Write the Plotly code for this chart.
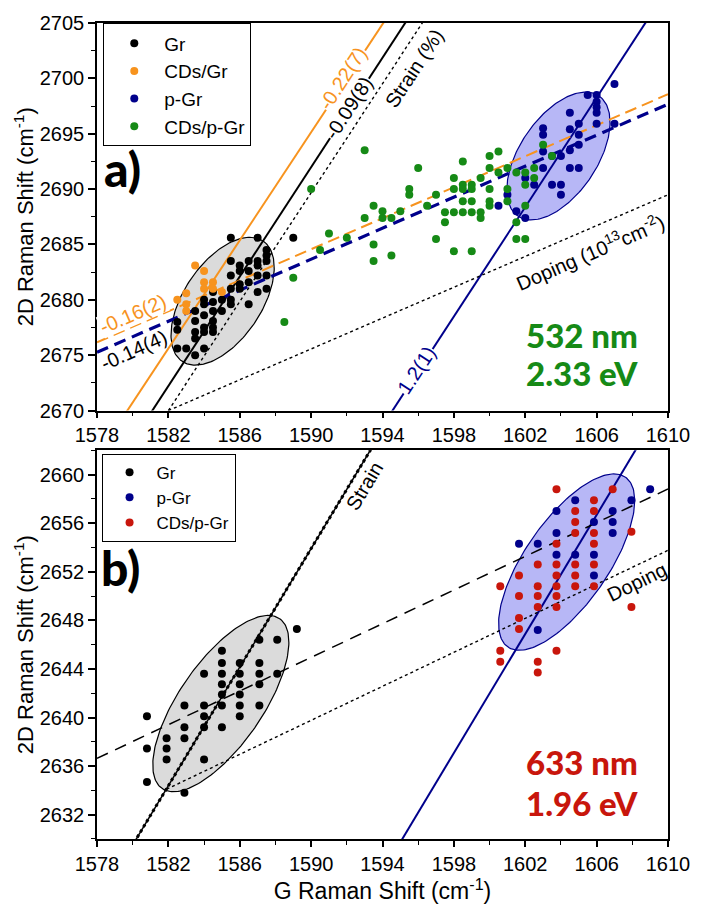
import numpy as np
import plotly.graph_objects as go

# ---------------- Panel a) 532 nm ----------------
gr_a_x = [1582.5, 1582.5, 1582.5, 1583.0, 1583.5, 1583.5, 1583.5, 1583.5, 1583.5,
          1584.0, 1584.0, 1584.0, 1584.0, 1584.0, 1584.0,
          1584.5, 1584.5, 1584.5, 1584.5, 1584.5, 1584.5, 1585.0, 1585.0,
          1585.5, 1585.5, 1585.5, 1585.5, 1585.5, 1585.5,
          1586.0, 1586.0, 1586.0, 1586.0, 1586.5, 1586.5, 1586.5, 1586.5,
          1587.0, 1587.0, 1587.0, 1587.0, 1587.0,
          1587.5, 1587.5, 1587.5, 1587.5, 1587.5, 1589.0]
gr_a_y = [2678.0, 2677.3, 2675.6, 2675.6, 2679.0, 2678.1, 2677.1, 2676.5, 2675.0,
          2680.0, 2679.6, 2678.6, 2677.5, 2677.1, 2675.6,
          2680.7, 2679.8, 2679.0, 2678.1, 2677.5, 2677.1, 2680.0, 2679.0,
          2685.6, 2683.5, 2682.2, 2681.0, 2680.0, 2679.6,
          2683.1, 2682.6, 2681.4, 2681.0, 2683.5, 2682.6, 2681.6, 2679.6,
          2685.6, 2683.5, 2683.1, 2682.2, 2680.7,
          2684.5, 2684.0, 2683.5, 2682.2, 2681.0, 2685.6]

cdgr_a_x = [1582.5, 1583.0, 1583.0, 1583.0, 1583.5, 1584.0, 1584.0, 1584.0, 1584.5, 1584.5, 1585.0]
cdgr_a_y = [2680.0, 2680.6, 2679.6, 2679.0, 2683.1, 2682.6, 2681.6, 2681.0, 2681.6, 2681.0, 2680.7]

pgr_a_x = [1600.5, 1601.0, 1601.5, 1602.0, 1602.0, 1602.5,
           1603.0, 1603.0, 1603.0, 1603.0, 1603.5, 1603.5,
           1604.0, 1604.0, 1604.0, 1604.5, 1604.5, 1604.5, 1604.5,
           1605.0, 1605.0, 1605.0, 1605.0, 1605.5,
           1606.0, 1606.0, 1606.0, 1606.0, 1606.0, 1607.0, 1607.0]
pgr_a_y = [2688.5, 2689.5, 2688.0, 2687.4, 2691.0, 2690.4,
           2695.5, 2694.9, 2693.4, 2691.9, 2693.0, 2690.4,
           2693.0, 2690.4, 2689.5, 2696.9, 2695.4, 2693.5, 2691.9,
           2695.9, 2694.9, 2694.0, 2691.9, 2698.5,
           2698.5, 2697.9, 2697.4, 2696.9, 2695.9, 2699.5, 2695.9]

cdpgr_a_x = [1588.5, 1589.0, 1590.0, 1590.5, 1591.0, 1592.0,
             1593.0, 1593.0, 1593.5, 1593.5, 1593.5,
             1594.0, 1594.0, 1594.5, 1594.5, 1595.0,
             1595.5, 1595.5, 1596.0, 1596.5, 1597.0, 1597.0,
             1597.5, 1597.5, 1598.0, 1598.0, 1598.0, 1598.0,
             1598.5, 1598.5, 1598.5, 1598.5, 1598.5,
             1599.0, 1599.0, 1599.0, 1599.0, 1599.0,
             1599.5, 1599.5, 1599.5,
             1600.0, 1600.0, 1600.0, 1600.0, 1600.0,
             1600.5, 1600.5, 1601.0, 1601.0, 1601.0,
             1601.5, 1601.5, 1601.5, 1602.0, 1602.0, 1602.0, 1602.0,
             1602.5, 1602.5, 1603.0, 1603.5]
cdpgr_a_y = [2678.0, 2682.0, 2690.0, 2684.5, 2686.0, 2685.6,
             2693.5, 2687.4, 2688.5, 2685.0, 2683.5,
             2688.0, 2687.4, 2687.4, 2684.0, 2688.0,
             2690.0, 2689.5, 2691.9, 2688.5, 2689.5, 2685.5,
             2687.9, 2687.0, 2691.0, 2690.0, 2687.9, 2684.4,
             2692.5, 2690.4, 2690.0, 2688.9, 2687.9,
             2690.4, 2690.0, 2688.9, 2687.9, 2684.4,
             2691.0, 2687.9, 2687.4,
             2693.0, 2691.9, 2690.0, 2688.9, 2688.5,
             2693.4, 2691.5, 2691.9, 2690.0, 2688.9,
             2691.5, 2687.0, 2685.5, 2691.5, 2690.4, 2688.5, 2685.5,
             2691.9, 2691.0, 2694.0, 2693.0]

# ---------------- Panel b) 633 nm ----------------
gr_b_x = [1580.8, 1580.8, 1580.8, 1581.9, 1581.9, 1581.9,
          1582.9, 1582.9, 1582.9, 1582.9,
          1584.0, 1584.0, 1584.0, 1584.0, 1584.0,
          1585.0, 1585.0, 1585.0, 1585.0, 1585.0, 1585.0, 1585.0,
          1586.0, 1586.0, 1586.0, 1586.0, 1586.0, 1586.0,
          1587.1, 1587.1, 1587.1, 1587.1, 1587.1,
          1588.1, 1588.1, 1589.2]
gr_b_y = [2640.1, 2637.45, 2634.7, 2638.3, 2637.45, 2636.55,
          2641.0, 2639.2, 2638.3, 2633.8,
          2643.6, 2641.0, 2640.1, 2639.2, 2636.55,
          2645.5, 2644.5, 2643.6, 2642.75, 2641.9, 2641.0, 2639.2,
          2644.5, 2643.6, 2642.75, 2641.9, 2641.0, 2640.1,
          2646.4, 2644.5, 2643.6, 2642.75, 2641.0,
          2646.4, 2643.6, 2647.3]

pgr_b_x = [1601.65, 1602.7, 1602.7, 1603.75, 1603.75, 1603.75, 1604.8, 1604.8,
           1605.85, 1605.85, 1605.85, 1606.9, 1606.9, 1606.9, 1607.95, 1609.0]
pgr_b_y = [2654.3, 2654.3, 2647.2, 2657.0, 2655.2, 2653.4, 2657.9, 2653.4,
           2656.1, 2653.4, 2651.7, 2657.0, 2656.1, 2655.2, 2657.9, 2658.8]

cdpgr_b_x = [1603.75, 1605.85, 1606.9, 1604.8, 1604.8, 1604.8,
             1605.85, 1605.85, 1605.85, 1603.75, 1602.7,
             1603.75, 1603.75, 1603.75, 1603.75, 1603.75,
             1604.8, 1604.8, 1604.8, 1605.85, 1605.85,
             1601.65, 1600.6, 1601.65, 1602.7, 1602.7, 1602.7,
             1601.65, 1601.65, 1607.95, 1607.95,
             1600.6, 1600.6, 1602.7, 1602.7, 1603.75]
cdpgr_b_y = [2658.8, 2657.9, 2658.8, 2657.0, 2656.1, 2655.2,
             2657.0, 2655.2, 2654.3, 2654.3, 2652.6,
             2652.6, 2651.7, 2650.8, 2650.0, 2649.1,
             2652.6, 2651.7, 2650.8, 2652.6, 2650.8,
             2651.7, 2650.8, 2650.0, 2650.8, 2650.0, 2649.1,
             2648.2, 2647.3, 2655.3, 2649.1,
             2645.5, 2644.6, 2644.6, 2643.7, 2645.5]

# fitted / reference lines: point (x0, y0), slope, start x
lines_a_x0 = [1581.1, 1579.7, 1594.56, 1578.0, 1578.0, 1582.0, 1582.0]
lines_a_y0 = [2670.0, 2670.0, 2670.0, 2676.17, 2675.27, 2670.0, 2670.0]
lines_a_m = [2.47, 2.44, 2.47, 0.70, 0.70, 2.46, 0.696]
lines_a_xs = [1578.0, 1578.0, 1578.0, 1578.0, 1578.0, 1582.0, 1582.0]

lines_b_x0 = [1580.2, 1580.2, 1595.11, 1578.0, 1581.9]
lines_b_y0 = [2630.0, 2630.0, 2630.0, 2636.64, 2634.1]
lines_b_m = [2.44, 2.44, 2.45, 0.693, 0.70]
lines_b_xs = [1578.0, 1578.0, 1578.0, 1578.0, 1581.9]

# ellipses (centre in data units)
ell_a_cx = [1585.04, 1603.86]
ell_a_cy = [2679.88, 2692.99]
ell_b_cx = [1584.94, 1604.32]
ell_b_cy = [2641.15, 2652.8]

x_ticks = [1578, 1582, 1586, 1590, 1594, 1598, 1602, 1606, 1610]

ORANGE = "#F7931E"
NAVY = "#00008B"
GREEN = "#168A16"
RED = "#C8160C"
BLACK = "#000000"

W, H = 702, 912
ML, MR, MT, MB = 97, 29, 18, 73
PW = W - ML - MR
PH = H - MT - MB
DOM_A = [0.525, 1.0]
DOM_B = [0.0, 0.4763]
XR = [1578, 1610]
YR_A = [2670, 2705]
YR_B = [2630, 2662]

ppx = PW / (XR[1] - XR[0])
ppy_a = PH * (DOM_A[1] - DOM_A[0]) / (YR_A[1] - YR_A[0])
ppy_b = PH * (DOM_B[1] - DOM_B[0]) / (YR_B[1] - YR_B[0])


def ellipse(cx, cy, a, b, ang, ppy):
    t = np.linspace(0, 2 * np.pi, 200)
    th = np.radians(ang)
    dx = a * np.cos(t) * np.cos(th) - b * np.sin(t) * np.sin(th)
    dy = a * np.cos(t) * np.sin(th) + b * np.sin(t) * np.cos(th)
    return cx + dx / ppx, cy + dy / ppy


def line(x0, y0, m, xs, xe=1610.0):
    xx = np.array([xs, xe])
    return xx, y0 + m * (xx - x0)


fig = go.Figure()

ell_styles = [("rgba(200,200,200,0.65)", BLACK), ("rgba(95,95,235,0.45)", NAVY)]
for i in range(2):
    ex, ey = ellipse(ell_a_cx[i], ell_a_cy[i], 73, 39, 56, ppy_a)
    fig.add_trace(go.Scatter(x=ex, y=ey, mode="lines", fill="toself",
                             fillcolor=ell_styles[i][0],
                             line=dict(color=ell_styles[i][1], width=1.2),
                             showlegend=False, hoverinfo="skip", xaxis="x", yaxis="y"))
    ex, ey = ellipse(ell_b_cx[i], ell_b_cy[i], 104, 42, 55.2, ppy_b)
    fig.add_trace(go.Scatter(x=ex, y=ey, mode="lines", fill="toself",
                             fillcolor=ell_styles[i][0],
                             line=dict(color=ell_styles[i][1], width=1.2),
                             showlegend=False, hoverinfo="skip", xaxis="x2", yaxis="y2"))

styles_a = [dict(color=BLACK, width=2), dict(color=ORANGE, width=2), dict(color=NAVY, width=2),
            dict(color=ORANGE, width=2, dash="12px,6px"), dict(color=NAVY, width=3.2, dash="12px,7px"),
            dict(color=BLACK, width=1.4, dash="dot"), dict(color=BLACK, width=1.4, dash="dot")]
for i in range(len(lines_a_x0)):
    lx, ly = line(lines_a_x0[i], lines_a_y0[i], lines_a_m[i], lines_a_xs[i])
    fig.add_trace(go.Scatter(x=lx, y=ly, mode="lines", line=styles_a[i],
                             showlegend=False, hoverinfo="skip", xaxis="x", yaxis="y"))

styles_b = [dict(color=BLACK, width=1.5), dict(color=BLACK, width=3, dash="dot"),
            dict(color=NAVY, width=2), dict(color=BLACK, width=1.5, dash="12px,8px"),
            dict(color=BLACK, width=1.4, dash="dot")]
for i in range(len(lines_b_x0)):
    lx, ly = line(lines_b_x0[i], lines_b_y0[i], lines_b_m[i], lines_b_xs[i])
    fig.add_trace(go.Scatter(x=lx, y=ly, mode="lines", line=styles_b[i],
                             showlegend=False, hoverinfo="skip", xaxis="x2", yaxis="y2"))

MS = 8
for name, xs, ys, col in [("Gr", gr_a_x, gr_a_y, BLACK), ("CDs/Gr", cdgr_a_x, cdgr_a_y, ORANGE),
                          ("p-Gr", pgr_a_x, pgr_a_y, NAVY), ("CDs/p-Gr", cdpgr_a_x, cdpgr_a_y, GREEN)]:
    fig.add_trace(go.Scatter(x=xs, y=ys, mode="markers", name=name,
                             marker=dict(color=col, size=MS), legend="legend",
                             xaxis="x", yaxis="y"))
for name, xs, ys, col in [("Gr", gr_b_x, gr_b_y, BLACK), ("p-Gr", pgr_b_x, pgr_b_y, NAVY),
                          ("CDs/p-Gr", cdpgr_b_x, cdpgr_b_y, RED)]:
    fig.add_trace(go.Scatter(x=xs, y=ys, mode="markers", name=name,
                             marker=dict(color=col, size=MS), legend="legend2",
                             xaxis="x2", yaxis="y2"))

FONT = "Liberation Sans, Arial, sans-serif"
BOLD = "Lato, Noto Sans, sans-serif"

axis_common = dict(showline=True, linecolor="black", linewidth=1.6, mirror=True,
                   ticks="outside", tickwidth=1.5, tickcolor="black",
                   showgrid=False, zeroline=False,
                   tickfont=dict(family=FONT, size=20, color="black"))

ann = []


def A(text, x, y, ref, size=20, color="black", angle=0, bg=None, family=FONT, weight=None):
    d = dict(text=text, x=x, y=y, xref="x" if ref == 1 else "x2", yref="y" if ref == 1 else "y2",
             showarrow=False, textangle=angle,
             font=dict(family=family, size=size, color=color), borderpad=0)
    if weight:
        d["font"]["weight"] = weight
    if bg:
        d["bgcolor"] = bg
    ann.append(d)


A("-0.22(7)", 1591.8, 2700.0, 1, color=ORANGE, angle=-56.7, bg="white")
A("-0.09(8)", 1592.1, 2697.3, 1, angle=-56.7, bg="white")
A("Strain (%)", 1595.8, 2700.9, 1, angle=-56.7)
A("-0.16(2)", 1580.0, 2678.7, 1, color=ORANGE, angle=-23.4, bg="white")
A("-0.14(4)", 1580.1, 2675.45, 1, angle=-24)
A("1.2(1)", 1595.9, 2673.7, 1, color=NAVY, angle=-56.7, bg="white")
A("Doping (10<sup>13</sup>cm<sup>-2</sup>)", 1605.6, 2684.4, 1, angle=-23.4)
A("532 nm", 1605.2, 2676.85, 1, size=33, color=GREEN, family=BOLD, weight=900)
A("2.33 eV", 1605.2, 2673.4, 1, size=33, color=GREEN, family=BOLD, weight=900)
A("a)", 1579.45, 2691.9, 1, size=48, family=BOLD, weight=900)

A("Strain", 1592.98, 2659.1, 2, angle=-58.8)
A("Doping", 1608.26, 2651.2, 2, angle=-26)
A("633 nm", 1605.2, 2636.35, 2, size=33, color=RED, family=BOLD, weight=900)
A("1.96 eV", 1605.2, 2632.95, 2, size=33, color=RED, family=BOLD, weight=900)
A("b)", 1579.3, 2652.35, 2, size=48, family=BOLD, weight=900)

minor_tick = dict(ticks="outside", ticklen=4, tickwidth=1.2, tickcolor="black")

fig.update_layout(
    width=W, height=H, autosize=False,
    margin=dict(l=ML, r=MR, t=MT, b=MB),
    paper_bgcolor="white", plot_bgcolor="white",
    font=dict(family=FONT, color="black"),
    xaxis=dict(axis_common, range=XR, domain=[0, 1], anchor="y", tickvals=x_ticks, ticklen=6,
               minor=dict(minor_tick, dtick=2, tick0=1578)),
    yaxis=dict(axis_common, range=YR_A, domain=DOM_A, anchor="x", dtick=5, tick0=2670, ticklen=7,
               minor=dict(minor_tick, dtick=2.5, tick0=2670),
               title=dict(text="2D Raman Shift (cm<sup>-1</sup>)", font=dict(family=FONT, size=22), standoff=0)),
    xaxis2=dict(axis_common, range=XR, domain=[0, 1], anchor="y2", tickvals=x_ticks, ticklen=6,
                minor=dict(minor_tick, dtick=2, tick0=1578),
                title=dict(text="G Raman Shift (cm<sup>-1</sup>)", font=dict(family=FONT, size=23), standoff=0)),
    yaxis2=dict(axis_common, range=YR_B, domain=DOM_B, anchor="x2", dtick=4, tick0=2632, ticklen=7,
                minor=dict(minor_tick, dtick=2, tick0=2630),
                title=dict(text="2D Raman Shift (cm<sup>-1</sup>)", font=dict(family=FONT, size=22), standoff=0)),
    legend=dict(x=0.011, y=0.9996, xanchor="left", yanchor="top", bordercolor="black", borderwidth=1,
                bgcolor="white", font=dict(family=FONT, size=19), tracegroupgap=0, itemwidth=50),
    legend2=dict(x=0.008, y=0.4722, xanchor="left", yanchor="top", bordercolor="black", borderwidth=1,
                 bgcolor="white", font=dict(family=FONT, size=17), tracegroupgap=0, itemwidth=44),
    annotations=ann,
    showlegend=True,
    hovermode=False,
)

fig.write_html("out.html", config={"displayModeBar": False},
               post_script="document.body.style.margin='0px';document.body.style.overflow='hidden';")
